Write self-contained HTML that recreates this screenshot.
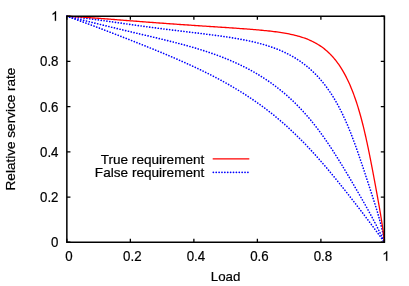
<!DOCTYPE html><html><head><meta charset="utf-8"><style>html,body{margin:0;padding:0;background:#fff}body{width:409px;height:286px;overflow:hidden;position:relative}</style></head><body><svg width="409" height="286" viewBox="0 0 409 286" style="position:absolute;left:0;top:0;will-change:transform">
<rect width="409" height="286" fill="#fff"/>
<path d="M66.85,16.25 L68.10,16.36 L69.35,16.48 L70.59,16.60 L71.84,16.72 L73.09,16.84 L74.33,16.97 L75.57,17.11 L76.81,17.24 L78.05,17.38 L79.29,17.52 L80.52,17.66 L81.76,17.80 L82.99,17.95 L84.23,18.10 L85.46,18.25 L86.69,18.40 L87.92,18.56 L89.14,18.71 L90.37,18.87 L91.60,19.03 L92.82,19.19 L94.04,19.35 L95.27,19.52 L96.49,19.68 L97.71,19.85 L98.92,20.01 L100.14,20.18 L101.36,20.35 L102.57,20.52 L103.79,20.69 L105.00,20.86 L106.22,21.03 L107.43,21.20 L108.64,21.37 L109.85,21.55 L111.06,21.72 L112.27,21.89 L113.48,22.06 L114.69,22.24 L115.90,22.41 L117.11,22.58 L118.31,22.76 L119.52,22.93 L120.73,23.10 L121.94,23.28 L123.14,23.45 L124.35,23.62 L125.55,23.79 L126.76,23.96 L127.97,24.14 L129.17,24.31 L130.38,24.48 L131.59,24.65 L132.79,24.82 L134.00,24.99 L135.21,25.16 L136.42,25.33 L137.63,25.49 L138.84,25.66 L140.05,25.83 L141.26,26.00 L142.47,26.16 L143.68,26.33 L144.89,26.49 L146.10,26.66 L147.32,26.82 L148.53,26.98 L149.75,27.15 L150.97,27.31 L152.19,27.47 L153.41,27.63 L154.63,27.79 L155.85,27.95 L157.07,28.11 L158.30,28.27 L159.52,28.43 L160.75,28.58 L161.98,28.74 L163.21,28.90 L164.44,29.05 L165.68,29.21 L166.91,29.36 L168.15,29.52 L169.39,29.67 L170.63,29.83 L171.87,29.98 L173.12,30.13 L174.37,30.29 L175.62,30.44 L176.87,30.59 L178.12,30.74 L179.37,30.90 L180.63,31.05 L181.89,31.20 L183.15,31.35 L184.41,31.50 L185.68,31.66 L186.95,31.81 L188.22,31.96 L189.49,32.11 L190.77,32.27 L192.04,32.42 L193.32,32.58 L194.60,32.73 L195.89,32.89 L197.17,33.04 L198.46,33.20 L199.75,33.36 L201.05,33.51 L202.34,33.67 L203.64,33.83 L204.94,34.00 L206.24,34.16 L207.54,34.32 L208.85,34.49 L210.16,34.66 L211.47,34.83 L212.78,35.00 L214.10,35.17 L215.41,35.34 L216.73,35.52 L218.05,35.70 L219.37,35.88 L220.69,36.07 L222.02,36.25 L223.34,36.44 L224.67,36.64 L226.00,36.83 L227.33,37.03 L228.66,37.24 L229.99,37.44 L231.32,37.65 L232.65,37.87 L233.98,38.09 L235.31,38.31 L236.65,38.54 L237.98,38.77 L239.31,39.01 L240.64,39.25 L241.97,39.50 L243.30,39.75 L244.62,40.01 L245.95,40.27 L247.27,40.55 L248.59,40.82 L249.91,41.11 L251.23,41.40 L252.54,41.70 L253.85,42.00 L255.16,42.31 L256.47,42.63 L257.77,42.96 L259.06,43.29 L260.35,43.64 L261.64,43.99 L262.92,44.35 L264.19,44.72 L265.46,45.09 L266.73,45.48 L267.98,45.88 L269.23,46.28 L270.48,46.69 L271.72,47.12 L272.94,47.55 L274.17,47.99 L275.38,48.44 L276.58,48.91 L277.78,49.38 L278.97,49.86 L280.15,50.35 L281.31,50.85 L282.47,51.36 L283.62,51.89 L284.77,52.42 L285.90,52.96 L287.02,53.51 L288.12,54.07 L289.22,54.64 L290.31,55.22 L291.39,55.81 L292.46,56.41 L293.51,57.02 L294.56,57.64 L295.59,58.27 L296.61,58.91 L297.62,59.55 L298.62,60.21 L299.61,60.87 L300.59,61.54 L301.55,62.23 L302.51,62.91 L303.45,63.61 L304.38,64.32 L305.30,65.03 L306.21,65.75 L307.11,66.48 L307.99,67.22 L308.87,67.96 L309.73,68.71 L310.59,69.46 L311.43,70.23 L312.26,71.00 L313.08,71.77 L313.89,72.55 L314.69,73.34 L315.48,74.13 L316.26,74.93 L317.03,75.73 L317.78,76.54 L318.53,77.36 L319.27,78.17 L320.00,79.00 L320.72,79.82 L321.43,80.66 L322.13,81.49 L322.82,82.33 L323.50,83.17 L324.17,84.02 L324.83,84.87 L325.49,85.73 L326.13,86.58 L326.77,87.44 L327.40,88.31 L328.02,89.17 L328.63,90.04 L329.24,90.91 L329.83,91.78 L330.42,92.66 L331.00,93.54 L331.57,94.41 L332.14,95.30 L332.70,96.18 L333.25,97.06 L333.79,97.95 L334.33,98.84 L334.86,99.73 L335.38,100.62 L335.90,101.51 L336.41,102.40 L336.92,103.30 L337.41,104.19 L337.91,105.09 L338.39,105.98 L338.87,106.88 L339.35,107.78 L339.82,108.68 L340.28,109.57 L340.74,110.47 L341.19,111.37 L341.64,112.27 L342.08,113.17 L342.51,114.07 L342.95,114.97 L343.37,115.87 L343.80,116.77 L344.21,117.67 L344.63,118.57 L345.04,119.47 L345.44,120.37 L345.84,121.27 L346.24,122.17 L346.63,123.07 L347.02,123.97 L347.40,124.87 L347.78,125.76 L348.16,126.66 L348.53,127.56 L348.90,128.45 L349.27,129.35 L349.63,130.24 L349.99,131.14 L350.35,132.03 L350.70,132.92 L351.05,133.82 L351.40,134.71 L351.74,135.60 L352.09,136.49 L352.43,137.38 L352.76,138.27 L353.10,139.15 L353.43,140.04 L353.76,140.93 L354.09,141.81 L354.41,142.70 L354.74,143.58 L355.06,144.46 L355.38,145.35 L355.69,146.23 L356.01,147.11 L356.32,147.99 L356.63,148.87 L356.94,149.74 L357.25,150.62 L357.56,151.50 L357.86,152.37 L358.17,153.25 L358.47,154.12 L358.77,154.99 L359.07,155.86 L359.37,156.74 L359.67,157.61 L359.96,158.48 L360.26,159.34 L360.55,160.21 L360.85,161.08 L361.14,161.95 L361.43,162.81 L361.72,163.68 L362.01,164.54 L362.30,165.40 L362.59,166.27 L362.88,167.13 L363.17,167.99 L363.46,168.85 L363.74,169.71 L364.03,170.57 L364.31,171.43 L364.60,172.29 L364.88,173.15 L365.17,174.00 L365.45,174.86 L365.74,175.72 L366.02,176.57 L366.30,177.43 L366.58,178.28 L366.87,179.14 L367.15,179.99 L367.43,180.85 L367.71,181.70 L367.99,182.56 L368.27,183.41 L368.55,184.26 L368.83,185.12 L369.11,185.97 L369.39,186.82 L369.67,187.67 L369.95,188.53 L370.23,189.38 L370.51,190.23 L370.79,191.08 L371.07,191.94 L371.34,192.79 L371.62,193.64 L371.90,194.49 L372.17,195.35 L372.45,196.20 L372.72,197.05 L373.00,197.91 L373.27,198.76 L373.55,199.61 L373.82,200.47 L374.09,201.32 L374.36,202.18 L374.63,203.03 L374.90,203.89 L375.17,204.74 L375.44,205.60 L375.70,206.46 L375.97,207.32 L376.23,208.18 L376.49,209.03 L376.76,209.89 L377.02,210.75 L377.27,211.61 L377.53,212.48 L377.78,213.34 L378.04,214.20 L378.29,215.06 L378.54,215.93 L378.78,216.79 L379.03,217.66 L379.27,218.53 L379.51,219.39 L379.75,220.26 L379.98,221.13 L380.21,222.00 L380.44,222.87 L380.67,223.74 L380.89,224.62 L381.11,225.49 L381.32,226.36 L381.53,227.24 L381.74,228.11 L381.94,228.99 L382.14,229.87 L382.34,230.75 L382.53,231.63 L382.72,232.51 L382.90,233.39 L383.07,234.27 L383.24,235.16 L383.41,236.04 L383.57,236.92 L383.72,237.81 L383.87,238.70 L384.01,239.58 L384.15,240.47 L384.28,241.36 L384.40,242.25" fill="none" stroke="#0000ff" stroke-width="1.65" stroke-linecap="round" stroke-dasharray="0.1,2.78"/>
<path d="M66.85,16.25 L68.10,16.55 L69.34,16.85 L70.59,17.15 L71.82,17.45 L73.06,17.75 L74.29,18.05 L75.52,18.35 L76.75,18.65 L77.97,18.95 L79.19,19.25 L80.41,19.55 L81.62,19.85 L82.84,20.14 L84.04,20.44 L85.25,20.74 L86.45,21.04 L87.66,21.33 L88.85,21.63 L90.05,21.93 L91.24,22.22 L92.43,22.52 L93.62,22.81 L94.81,23.10 L95.99,23.39 L97.17,23.69 L98.35,23.98 L99.53,24.27 L100.70,24.56 L101.88,24.84 L103.05,25.13 L104.22,25.42 L105.38,25.70 L106.55,25.99 L107.71,26.27 L108.88,26.56 L110.04,26.84 L111.19,27.12 L112.35,27.40 L113.51,27.68 L114.66,27.96 L115.81,28.24 L116.96,28.52 L118.11,28.80 L119.26,29.07 L120.41,29.35 L121.55,29.62 L122.70,29.90 L123.84,30.17 L124.98,30.44 L126.12,30.72 L127.26,30.99 L128.40,31.26 L129.54,31.53 L130.68,31.80 L131.81,32.07 L132.95,32.34 L134.08,32.61 L135.22,32.88 L136.35,33.14 L137.48,33.41 L138.61,33.68 L139.74,33.94 L140.87,34.21 L142.00,34.48 L143.13,34.74 L144.26,35.01 L145.39,35.28 L146.51,35.54 L147.64,35.81 L148.77,36.08 L149.89,36.34 L151.02,36.61 L152.14,36.88 L153.27,37.15 L154.39,37.41 L155.51,37.68 L156.63,37.95 L157.76,38.22 L158.88,38.49 L160.00,38.76 L161.12,39.03 L162.24,39.30 L163.36,39.58 L164.48,39.85 L165.60,40.13 L166.72,40.40 L167.84,40.68 L168.95,40.96 L170.07,41.24 L171.19,41.52 L172.30,41.80 L173.42,42.08 L174.53,42.37 L175.65,42.65 L176.76,42.94 L177.87,43.23 L178.99,43.52 L180.10,43.81 L181.21,44.11 L182.32,44.40 L183.43,44.70 L184.54,45.00 L185.64,45.31 L186.75,45.61 L187.86,45.92 L188.96,46.23 L190.06,46.54 L191.17,46.85 L192.27,47.17 L193.37,47.49 L194.47,47.81 L195.57,48.13 L196.66,48.46 L197.76,48.79 L198.85,49.12 L199.94,49.45 L201.03,49.79 L202.12,50.13 L203.21,50.48 L204.30,50.82 L205.38,51.17 L206.47,51.53 L207.55,51.88 L208.62,52.24 L209.70,52.60 L210.78,52.97 L211.85,53.34 L212.92,53.71 L213.99,54.09 L215.06,54.47 L216.12,54.85 L217.18,55.24 L218.24,55.63 L219.30,56.02 L220.35,56.42 L221.40,56.82 L222.45,57.23 L223.50,57.64 L224.54,58.05 L225.58,58.47 L226.62,58.89 L227.66,59.31 L228.69,59.74 L229.72,60.17 L230.74,60.61 L231.76,61.05 L232.78,61.49 L233.80,61.94 L234.81,62.39 L235.82,62.85 L236.82,63.31 L237.83,63.77 L238.82,64.24 L239.82,64.71 L240.81,65.19 L241.80,65.67 L242.78,66.15 L243.76,66.64 L244.74,67.13 L245.71,67.63 L246.67,68.13 L247.64,68.63 L248.60,69.14 L249.55,69.65 L250.50,70.16 L251.45,70.68 L252.39,71.21 L253.33,71.73 L254.27,72.26 L255.20,72.80 L256.12,73.34 L257.04,73.88 L257.96,74.43 L258.87,74.97 L259.78,75.53 L260.68,76.09 L261.58,76.65 L262.47,77.21 L263.36,77.78 L264.25,78.35 L265.13,78.93 L266.00,79.50 L266.87,80.09 L267.74,80.67 L268.60,81.26 L269.45,81.85 L270.31,82.45 L271.15,83.05 L272.00,83.65 L272.83,84.26 L273.66,84.86 L274.49,85.48 L275.32,86.09 L276.13,86.71 L276.95,87.33 L277.76,87.95 L278.56,88.58 L279.36,89.21 L280.15,89.84 L280.94,90.48 L281.73,91.12 L282.51,91.76 L283.28,92.40 L284.05,93.05 L284.82,93.70 L285.58,94.35 L286.33,95.01 L287.08,95.66 L287.83,96.32 L288.57,96.99 L289.31,97.65 L290.04,98.32 L290.77,98.99 L291.49,99.66 L292.21,100.33 L292.92,101.01 L293.63,101.68 L294.34,102.36 L295.04,103.05 L295.74,103.73 L296.43,104.42 L297.11,105.11 L297.80,105.80 L298.47,106.49 L299.15,107.18 L299.82,107.88 L300.48,108.57 L301.14,109.27 L301.80,109.97 L302.45,110.68 L303.10,111.38 L303.75,112.09 L304.39,112.79 L305.02,113.50 L305.65,114.21 L306.28,114.93 L306.91,115.64 L307.53,116.35 L308.14,117.07 L308.76,117.79 L309.36,118.50 L309.97,119.22 L310.57,119.95 L311.17,120.67 L311.76,121.39 L312.35,122.12 L312.94,122.84 L313.52,123.57 L314.10,124.30 L314.68,125.02 L315.25,125.75 L315.82,126.48 L316.39,127.22 L316.95,127.95 L317.51,128.68 L318.07,129.42 L318.62,130.15 L319.17,130.89 L319.72,131.62 L320.27,132.36 L320.81,133.10 L321.35,133.84 L321.88,134.58 L322.42,135.32 L322.95,136.06 L323.48,136.80 L324.00,137.54 L324.52,138.29 L325.05,139.03 L325.56,139.78 L326.08,140.52 L326.59,141.27 L327.10,142.01 L327.61,142.76 L328.12,143.51 L328.62,144.25 L329.13,145.00 L329.63,145.75 L330.12,146.50 L330.62,147.25 L331.12,148.00 L331.61,148.75 L332.10,149.50 L332.59,150.25 L333.07,151.01 L333.56,151.76 L334.04,152.51 L334.53,153.26 L335.01,154.02 L335.49,154.77 L335.97,155.53 L336.44,156.28 L336.92,157.04 L337.39,157.79 L337.86,158.55 L338.34,159.31 L338.81,160.06 L339.28,160.82 L339.74,161.58 L340.21,162.34 L340.68,163.10 L341.14,163.85 L341.61,164.61 L342.07,165.37 L342.54,166.14 L343.00,166.90 L343.46,167.66 L343.92,168.42 L344.38,169.18 L344.84,169.95 L345.30,170.71 L345.76,171.47 L346.22,172.24 L346.67,173.00 L347.13,173.77 L347.59,174.54 L348.04,175.30 L348.50,176.07 L348.95,176.84 L349.41,177.61 L349.87,178.38 L350.32,179.15 L350.77,179.92 L351.23,180.69 L351.68,181.46 L352.14,182.24 L352.59,183.01 L353.05,183.79 L353.50,184.56 L353.95,185.34 L354.41,186.12 L354.86,186.89 L355.32,187.67 L355.77,188.45 L356.22,189.23 L356.68,190.02 L357.13,190.80 L357.59,191.58 L358.04,192.37 L358.49,193.15 L358.95,193.94 L359.40,194.73 L359.86,195.52 L360.31,196.31 L360.77,197.10 L361.22,197.89 L361.67,198.68 L362.13,199.48 L362.58,200.28 L363.04,201.07 L363.49,201.87 L363.95,202.67 L364.40,203.48 L364.85,204.28 L365.31,205.08 L365.76,205.89 L366.22,206.70 L366.67,207.51 L367.12,208.32 L367.58,209.13 L368.03,209.94 L368.48,210.76 L368.93,211.57 L369.38,212.39 L369.83,213.21 L370.28,214.04 L370.73,214.86 L371.18,215.68 L371.63,216.51 L372.08,217.34 L372.53,218.17 L372.97,219.00 L373.42,219.84 L373.86,220.68 L374.31,221.51 L374.75,222.35 L375.19,223.20 L375.63,224.04 L376.07,224.89 L376.50,225.73 L376.94,226.59 L377.37,227.44 L377.80,228.29 L378.23,229.15 L378.66,230.01 L379.09,230.87 L379.51,231.73 L379.93,232.59 L380.35,233.46 L380.77,234.33 L381.19,235.20 L381.60,236.08 L382.01,236.95 L382.41,237.83 L382.82,238.71 L383.22,239.59 L383.62,240.47 L384.01,241.36 L384.40,242.25" fill="none" stroke="#0000ff" stroke-width="1.65" stroke-linecap="round" stroke-dasharray="0.1,2.78"/>
<path d="M66.85,16.25 L68.10,16.69 L69.34,17.12 L70.58,17.56 L71.81,18.00 L73.04,18.43 L74.27,18.87 L75.48,19.31 L76.70,19.74 L77.91,20.18 L79.12,20.61 L80.32,21.05 L81.52,21.49 L82.71,21.92 L83.90,22.35 L85.08,22.79 L86.26,23.22 L87.44,23.66 L88.61,24.09 L89.78,24.52 L90.94,24.95 L92.10,25.38 L93.26,25.81 L94.41,26.24 L95.56,26.67 L96.70,27.10 L97.84,27.53 L98.98,27.96 L100.11,28.39 L101.24,28.81 L102.36,29.24 L103.49,29.66 L104.60,30.09 L105.72,30.51 L106.83,30.94 L107.94,31.36 L109.05,31.78 L110.15,32.20 L111.25,32.62 L112.34,33.04 L113.43,33.46 L114.52,33.88 L115.61,34.30 L116.69,34.72 L117.77,35.14 L118.85,35.55 L119.92,35.97 L120.99,36.39 L122.06,36.80 L123.12,37.21 L124.19,37.63 L125.25,38.04 L126.30,38.45 L127.36,38.87 L128.41,39.28 L129.46,39.69 L130.50,40.10 L131.55,40.51 L132.59,40.92 L133.63,41.33 L134.66,41.74 L135.70,42.15 L136.73,42.56 L137.76,42.96 L138.79,43.37 L139.81,43.78 L140.83,44.19 L141.85,44.59 L142.87,45.00 L143.89,45.40 L144.90,45.81 L145.91,46.22 L146.92,46.62 L147.93,47.03 L148.93,47.43 L149.93,47.84 L150.94,48.24 L151.93,48.65 L152.93,49.05 L153.93,49.46 L154.92,49.86 L155.91,50.27 L156.90,50.67 L157.88,51.08 L158.87,51.48 L159.85,51.89 L160.83,52.30 L161.81,52.70 L162.79,53.11 L163.77,53.51 L164.74,53.92 L165.71,54.33 L166.68,54.73 L167.65,55.14 L168.62,55.55 L169.58,55.96 L170.54,56.37 L171.51,56.78 L172.47,57.19 L173.42,57.60 L174.38,58.01 L175.33,58.42 L176.29,58.83 L177.24,59.24 L178.19,59.66 L179.13,60.07 L180.08,60.48 L181.02,60.90 L181.97,61.31 L182.91,61.73 L183.84,62.15 L184.78,62.57 L185.72,62.98 L186.65,63.40 L187.58,63.83 L188.51,64.25 L189.44,64.67 L190.37,65.09 L191.29,65.52 L192.21,65.94 L193.14,66.37 L194.06,66.80 L194.97,67.22 L195.89,67.65 L196.80,68.08 L197.72,68.52 L198.63,68.95 L199.54,69.38 L200.44,69.82 L201.35,70.25 L202.25,70.69 L203.15,71.13 L204.05,71.57 L204.95,72.01 L205.85,72.45 L206.74,72.90 L207.64,73.34 L208.53,73.79 L209.42,74.24 L210.30,74.69 L211.19,75.14 L212.07,75.59 L212.95,76.04 L213.83,76.50 L214.71,76.95 L215.58,77.41 L216.46,77.87 L217.33,78.33 L218.20,78.79 L219.07,79.25 L219.93,79.72 L220.80,80.18 L221.66,80.65 L222.52,81.12 L223.37,81.59 L224.23,82.06 L225.08,82.54 L225.93,83.01 L226.78,83.49 L227.63,83.97 L228.48,84.45 L229.32,84.93 L230.16,85.42 L231.00,85.90 L231.83,86.39 L232.67,86.88 L233.50,87.37 L234.33,87.86 L235.16,88.35 L235.98,88.85 L236.81,89.34 L237.63,89.84 L238.45,90.34 L239.27,90.84 L240.08,91.34 L240.89,91.85 L241.70,92.35 L242.51,92.86 L243.32,93.37 L244.12,93.88 L244.92,94.40 L245.72,94.91 L246.52,95.43 L247.31,95.95 L248.10,96.46 L248.89,96.99 L249.68,97.51 L250.46,98.03 L251.25,98.56 L252.03,99.09 L252.81,99.62 L253.58,100.15 L254.35,100.68 L255.13,101.21 L255.89,101.75 L256.66,102.29 L257.42,102.83 L258.19,103.37 L258.95,103.91 L259.70,104.46 L260.46,105.00 L261.21,105.55 L261.96,106.10 L262.71,106.65 L263.45,107.20 L264.20,107.75 L264.94,108.31 L265.67,108.87 L266.41,109.42 L267.14,109.98 L267.88,110.55 L268.60,111.11 L269.33,111.67 L270.05,112.24 L270.78,112.81 L271.50,113.38 L272.21,113.95 L272.93,114.52 L273.64,115.09 L274.35,115.67 L275.06,116.24 L275.76,116.82 L276.47,117.40 L277.17,117.98 L277.87,118.57 L278.56,119.15 L279.26,119.74 L279.95,120.32 L280.64,120.91 L281.33,121.50 L282.01,122.09 L282.70,122.68 L283.38,123.28 L284.06,123.87 L284.73,124.47 L285.41,125.07 L286.08,125.67 L286.75,126.27 L287.42,126.87 L288.09,127.47 L288.75,128.08 L289.41,128.68 L290.07,129.29 L290.73,129.90 L291.39,130.51 L292.04,131.12 L292.69,131.74 L293.34,132.35 L293.99,132.97 L294.64,133.58 L295.28,134.20 L295.92,134.82 L296.56,135.44 L297.20,136.06 L297.84,136.68 L298.47,137.31 L299.11,137.93 L299.74,138.56 L300.37,139.19 L300.99,139.82 L301.62,140.45 L302.24,141.08 L302.87,141.71 L303.49,142.35 L304.11,142.98 L304.72,143.62 L305.34,144.25 L305.96,144.89 L306.57,145.53 L307.18,146.17 L307.79,146.82 L308.40,147.46 L309.01,148.10 L309.61,148.75 L310.22,149.40 L310.82,150.04 L311.42,150.69 L312.02,151.34 L312.62,152.00 L313.22,152.65 L313.82,153.30 L314.41,153.96 L315.01,154.61 L315.60,155.27 L316.19,155.93 L316.78,156.59 L317.37,157.25 L317.96,157.91 L318.55,158.58 L319.14,159.24 L319.72,159.90 L320.31,160.57 L320.89,161.24 L321.48,161.91 L322.06,162.58 L322.64,163.25 L323.22,163.92 L323.80,164.60 L324.38,165.27 L324.96,165.95 L325.54,166.63 L326.12,167.30 L326.70,167.98 L327.27,168.66 L327.85,169.35 L328.43,170.03 L329.00,170.72 L329.58,171.40 L330.15,172.09 L330.73,172.78 L331.30,173.47 L331.87,174.16 L332.45,174.85 L333.02,175.55 L333.59,176.24 L334.17,176.94 L334.74,177.64 L335.31,178.33 L335.89,179.04 L336.46,179.74 L337.03,180.44 L337.61,181.15 L338.18,181.85 L338.75,182.56 L339.32,183.27 L339.90,183.98 L340.47,184.69 L341.05,185.41 L341.62,186.12 L342.19,186.84 L342.77,187.56 L343.34,188.28 L343.92,189.00 L344.49,189.72 L345.07,190.44 L345.65,191.17 L346.22,191.90 L346.80,192.63 L347.38,193.36 L347.96,194.09 L348.54,194.83 L349.12,195.57 L349.70,196.30 L350.28,197.04 L350.86,197.79 L351.44,198.53 L352.03,199.28 L352.61,200.02 L353.20,200.77 L353.78,201.53 L354.37,202.28 L354.96,203.04 L355.54,203.79 L356.13,204.55 L356.72,205.31 L357.31,206.08 L357.91,206.85 L358.50,207.61 L359.09,208.38 L359.69,209.16 L360.28,209.93 L360.88,210.71 L361.48,211.49 L362.08,212.27 L362.68,213.05 L363.28,213.84 L363.88,214.63 L364.48,215.42 L365.09,216.22 L365.69,217.01 L366.30,217.81 L366.91,218.61 L367.52,219.42 L368.13,220.23 L368.74,221.04 L369.35,221.85 L369.96,222.66 L370.58,223.48 L371.19,224.30 L371.81,225.13 L372.43,225.95 L373.05,226.78 L373.67,227.61 L374.29,228.45 L374.91,229.29 L375.54,230.13 L376.16,230.97 L376.79,231.82 L377.42,232.67 L378.05,233.53 L378.68,234.38 L379.31,235.24 L379.94,236.11 L380.58,236.97 L381.21,237.85 L381.85,238.72 L382.48,239.60 L383.12,240.48 L383.76,241.36 L384.40,242.25" fill="none" stroke="#0000ff" stroke-width="1.65" stroke-linecap="round" stroke-dasharray="0.1,2.78"/>
<path d="M66.85,16.25 L68.10,16.31 L69.35,16.38 L70.60,16.45 L71.85,16.52 L73.09,16.59 L74.34,16.66 L75.58,16.73 L76.83,16.81 L78.07,16.89 L79.32,16.96 L80.56,17.04 L81.80,17.12 L83.05,17.21 L84.29,17.29 L85.53,17.37 L86.77,17.46 L88.01,17.54 L89.25,17.63 L90.49,17.72 L91.73,17.81 L92.97,17.90 L94.21,17.99 L95.45,18.08 L96.69,18.17 L97.93,18.26 L99.16,18.36 L100.40,18.45 L101.64,18.54 L102.88,18.64 L104.12,18.73 L105.35,18.83 L106.59,18.92 L107.83,19.02 L109.07,19.12 L110.31,19.21 L111.55,19.31 L112.78,19.41 L114.02,19.50 L115.26,19.60 L116.50,19.70 L117.74,19.80 L118.99,19.89 L120.23,19.99 L121.47,20.09 L122.71,20.19 L123.96,20.29 L125.20,20.38 L126.44,20.48 L127.69,20.58 L128.94,20.68 L130.18,20.78 L131.43,20.87 L132.68,20.97 L133.93,21.07 L135.18,21.17 L136.44,21.27 L137.69,21.36 L138.94,21.46 L140.20,21.56 L141.46,21.65 L142.72,21.75 L143.98,21.85 L145.24,21.94 L146.50,22.04 L147.77,22.14 L149.03,22.23 L150.30,22.33 L151.57,22.42 L152.84,22.52 L154.12,22.61 L155.39,22.71 L156.67,22.80 L157.95,22.90 L159.23,22.99 L160.51,23.09 L161.80,23.18 L163.08,23.27 L164.37,23.37 L165.67,23.46 L166.96,23.55 L168.26,23.65 L169.56,23.74 L170.86,23.83 L172.16,23.93 L173.47,24.02 L174.78,24.11 L176.09,24.20 L177.41,24.29 L178.72,24.39 L180.04,24.48 L181.37,24.57 L182.69,24.66 L184.02,24.75 L185.35,24.84 L186.69,24.93 L188.03,25.02 L189.37,25.12 L190.72,25.21 L192.06,25.30 L193.42,25.39 L194.77,25.48 L196.13,25.57 L197.49,25.66 L198.86,25.75 L200.23,25.84 L201.60,25.93 L202.98,26.03 L204.36,26.12 L205.74,26.21 L207.13,26.30 L208.52,26.39 L209.92,26.48 L211.32,26.58 L212.72,26.67 L214.13,26.76 L215.55,26.85 L216.96,26.95 L218.38,27.04 L219.81,27.14 L221.24,27.23 L222.67,27.33 L224.11,27.42 L225.55,27.52 L227.00,27.61 L228.45,27.71 L229.91,27.81 L231.37,27.91 L232.83,28.01 L234.30,28.11 L235.78,28.21 L237.26,28.32 L238.74,28.42 L240.23,28.53 L241.72,28.63 L243.22,28.74 L244.72,28.85 L246.22,28.97 L247.73,29.08 L249.24,29.20 L250.76,29.32 L252.28,29.44 L253.80,29.56 L255.33,29.69 L256.86,29.82 L258.40,29.96 L259.93,30.10 L261.47,30.24 L263.02,30.39 L264.56,30.54 L266.11,30.69 L267.65,30.86 L269.20,31.02 L270.75,31.20 L272.29,31.38 L273.84,31.57 L275.39,31.76 L276.93,31.97 L278.47,32.18 L280.01,32.41 L281.54,32.64 L283.07,32.88 L284.60,33.14 L286.11,33.40 L287.62,33.68 L289.12,33.98 L290.62,34.28 L292.10,34.60 L293.57,34.94 L295.03,35.29 L296.48,35.66 L297.91,36.04 L299.33,36.44 L300.73,36.86 L302.12,37.30 L303.49,37.75 L304.84,38.23 L306.17,38.72 L307.49,39.23 L308.78,39.76 L310.06,40.31 L311.31,40.88 L312.54,41.47 L313.75,42.08 L314.94,42.70 L316.11,43.35 L317.25,44.01 L318.38,44.69 L319.48,45.39 L320.56,46.11 L321.61,46.84 L322.65,47.59 L323.66,48.35 L324.65,49.13 L325.62,49.93 L326.57,50.74 L327.50,51.56 L328.41,52.40 L329.30,53.25 L330.17,54.11 L331.02,54.98 L331.85,55.86 L332.67,56.76 L333.46,57.66 L334.24,58.57 L335.00,59.50 L335.75,60.43 L336.48,61.37 L337.19,62.31 L337.89,63.27 L338.57,64.23 L339.24,65.19 L339.89,66.17 L340.53,67.15 L341.16,68.13 L341.78,69.12 L342.38,70.11 L342.97,71.11 L343.54,72.11 L344.11,73.11 L344.66,74.12 L345.21,75.13 L345.74,76.14 L346.26,77.16 L346.77,78.18 L347.28,79.20 L347.77,80.22 L348.25,81.24 L348.73,82.27 L349.19,83.29 L349.65,84.32 L350.10,85.35 L350.54,86.38 L350.97,87.41 L351.39,88.44 L351.81,89.47 L352.22,90.50 L352.62,91.53 L353.02,92.56 L353.41,93.58 L353.79,94.61 L354.17,95.64 L354.54,96.67 L354.90,97.70 L355.26,98.72 L355.61,99.75 L355.96,100.78 L356.30,101.80 L356.64,102.82 L356.97,103.84 L357.30,104.87 L357.62,105.89 L357.93,106.90 L358.24,107.92 L358.55,108.94 L358.85,109.95 L359.15,110.96 L359.45,111.97 L359.74,112.98 L360.02,113.99 L360.31,115.00 L360.58,116.00 L360.86,117.01 L361.13,118.01 L361.40,119.01 L361.66,120.01 L361.92,121.00 L362.18,122.00 L362.44,122.99 L362.69,123.98 L362.94,124.97 L363.18,125.96 L363.42,126.95 L363.66,127.93 L363.90,128.91 L364.14,129.89 L364.37,130.87 L364.60,131.85 L364.83,132.82 L365.05,133.80 L365.28,134.77 L365.50,135.74 L365.71,136.71 L365.93,137.67 L366.15,138.64 L366.36,139.60 L366.57,140.56 L366.78,141.52 L366.98,142.47 L367.19,143.43 L367.39,144.38 L367.59,145.33 L367.80,146.28 L367.99,147.23 L368.19,148.18 L368.39,149.12 L368.58,150.06 L368.77,151.01 L368.97,151.95 L369.16,152.88 L369.35,153.82 L369.53,154.75 L369.72,155.69 L369.91,156.62 L370.09,157.55 L370.28,158.48 L370.46,159.40 L370.64,160.33 L370.82,161.25 L371.00,162.17 L371.18,163.09 L371.36,164.01 L371.54,164.93 L371.71,165.85 L371.89,166.76 L372.07,167.68 L372.24,168.59 L372.41,169.50 L372.59,170.41 L372.76,171.32 L372.93,172.23 L373.10,173.13 L373.28,174.04 L373.45,174.94 L373.62,175.85 L373.78,176.75 L373.95,177.65 L374.12,178.55 L374.29,179.45 L374.46,180.34 L374.63,181.24 L374.79,182.14 L374.96,183.03 L375.12,183.93 L375.29,184.82 L375.45,185.71 L375.62,186.60 L375.78,187.49 L375.95,188.38 L376.11,189.27 L376.27,190.16 L376.44,191.05 L376.60,191.93 L376.76,192.82 L376.92,193.71 L377.08,194.59 L377.24,195.48 L377.40,196.36 L377.56,197.24 L377.72,198.13 L377.88,199.01 L378.04,199.89 L378.20,200.78 L378.35,201.66 L378.51,202.54 L378.67,203.42 L378.82,204.30 L378.98,205.18 L379.13,206.06 L379.29,206.94 L379.44,207.82 L379.59,208.70 L379.74,209.58 L379.89,210.46 L380.04,211.34 L380.19,212.22 L380.34,213.10 L380.49,213.98 L380.64,214.86 L380.78,215.74 L380.92,216.62 L381.07,217.50 L381.21,218.38 L381.35,219.26 L381.49,220.14 L381.63,221.02 L381.77,221.90 L381.90,222.78 L382.04,223.66 L382.17,224.54 L382.30,225.43 L382.43,226.31 L382.56,227.19 L382.68,228.07 L382.81,228.96 L382.93,229.84 L383.05,230.72 L383.17,231.61 L383.28,232.49 L383.40,233.38 L383.51,234.26 L383.62,235.15 L383.73,236.03 L383.83,236.92 L383.93,237.81 L384.03,238.69 L384.13,239.58 L384.22,240.47 L384.31,241.36 L384.40,242.25" fill="none" stroke="#ff0000" stroke-width="1.3"/>
<path d="M212.7,158.8 H249.3" stroke="#ff0000" stroke-width="1.3"/>
<path d="M213.3,172.4 H248.5" stroke="#0000ff" stroke-width="1.65" stroke-linecap="round" stroke-dasharray="0.1,2.78"/>
<path d="M66.85,242.25 v-3.6 M66.85,16.25 v3.6 M66.85,242.25 h3.6 M384.40,242.25 h-3.6 M130.36,242.25 v-3.6 M130.36,16.25 v3.6 M66.85,197.05 h3.6 M384.40,197.05 h-3.6 M193.87,242.25 v-3.6 M193.87,16.25 v3.6 M66.85,151.85 h3.6 M384.40,151.85 h-3.6 M257.38,242.25 v-3.6 M257.38,16.25 v3.6 M66.85,106.65 h3.6 M384.40,106.65 h-3.6 M320.89,242.25 v-3.6 M320.89,16.25 v3.6 M66.85,61.45 h3.6 M384.40,61.45 h-3.6 M384.40,242.25 v-3.6 M384.40,16.25 v3.6 M66.85,16.25 h3.6 M384.40,16.25 h-3.6" stroke="#000" stroke-width="1.3" fill="none"/>
<rect x="66.85" y="16.25" width="317.55" height="226.00" fill="none" stroke="#000" stroke-width="1.5"/>
<g font-family="Liberation Sans, sans-serif" font-size="13.3px" fill="#000" stroke="#000" stroke-width="0.2">
<text transform="translate(58.50,246.80) scale(1.000,1.050)" text-anchor="end">0</text>
<text transform="translate(68.85,260.80) scale(1.000,1.050)" text-anchor="middle">0</text>
<text transform="translate(58.50,201.80) scale(1.000,1.050)" text-anchor="end">0.2</text>
<text transform="translate(132.36,260.80) scale(1.000,1.050)" text-anchor="middle">0.2</text>
<text transform="translate(58.50,156.80) scale(1.000,1.050)" text-anchor="end">0.4</text>
<text transform="translate(195.87,260.80) scale(1.000,1.050)" text-anchor="middle">0.4</text>
<text transform="translate(58.50,111.80) scale(1.000,1.050)" text-anchor="end">0.6</text>
<text transform="translate(259.38,260.80) scale(1.000,1.050)" text-anchor="middle">0.6</text>
<text transform="translate(58.50,65.80) scale(1.000,1.050)" text-anchor="end">0.8</text>
<text transform="translate(322.89,260.80) scale(1.000,1.050)" text-anchor="middle">0.8</text>
<path d="M763 0H583V1147Q518 1085 412.5 1023Q307 961 223 930V1104Q374 1175 487 1276Q600 1377 647 1472H763Z" transform="translate(51.10,20.80) scale(0.006494,-0.006429)" stroke-width="30.8"/>
<path d="M763 0H583V1147Q518 1085 412.5 1023Q307 961 223 930V1104Q374 1175 487 1276Q600 1377 647 1472H763Z" transform="translate(382.30,260.70) scale(0.006494,-0.006429)" stroke-width="30.8"/>
<text transform="translate(204.40,163.80) scale(1.022,1.025)" text-anchor="end">True requirement</text>
<text transform="translate(204.40,177.30) scale(1.022,1.025)" text-anchor="end">False requirement</text>
<text transform="translate(225.60,280.50) scale(1.000,1.000)" text-anchor="middle">Load</text>
<text transform="translate(14.90,129.00) rotate(-90) scale(1.02,1.030)" text-anchor="middle">Relative service rate</text>
</g></svg></body></html>
